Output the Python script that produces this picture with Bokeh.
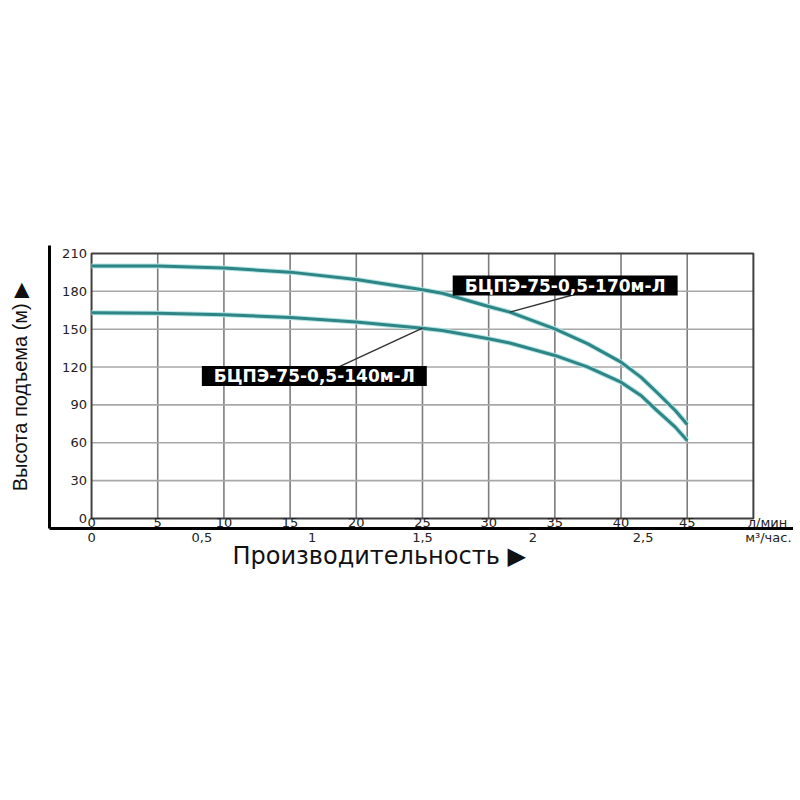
import numpy as np
from bokeh.plotting import figure
from bokeh.models import Range1d, LinearAxis, FixedTicker, Title
from bokeh.core.properties import value
from bokeh.embed import file_html
from bokeh.resources import INLINE

# ---- data ----
flow_lpm = [0, 5, 10, 15, 20, 25, 26.5, 30, 31.6, 35, 37.5, 40, 41.5, 42.7, 44.1, 45]
head_170 = [200, 200, 198.4, 195.2, 189.4, 181.2, 178.5, 168, 163.5, 150.3, 138.4, 123.9, 112, 100, 85.6, 74.5]
head_140 = [163, 162.7, 161.4, 159.3, 155.6, 150.8, 149, 142.4, 139, 129.2, 119.9, 108, 97.5, 85.6, 72.4, 61.8]
name_170 = "БЦПЭ-75-0,5-170м-Л"
name_140 = "БЦПЭ-75-0,5-140м-Л"

lpm_ticks = [0, 5, 10, 15, 20, 25, 30, 35, 40, 45]
head_ticks = [0, 30, 60, 90, 120, 150, 180, 210]
m3h_ticks = [0, 0.5, 1, 1.5, 2, 2.5]
m3h_labels = ["0", "0,5", "1", "1,5", "2", "2,5"]
lpm_unit = "л/мин"
m3h_unit = "м³/час."
y_title = "Высота подъема (м) ▶"
x_title = "Производительность ▶"
grid_x_max = 50
grid_y_max = 210

LPM_TO_M3H = 60.0 / 1000.0

# ---- layout ----
x_start, x_end = -3.177, 53.03
y_start, y_end = -7.92, 216.3

p = figure(width=793, height=793, output_backend="svg", toolbar_location=None,
           x_axis_type=None, y_axis_type=None,
           x_range=Range1d(x_start, x_end), y_range=Range1d(y_start, y_end),
           min_border_left=49, min_border_right=0, min_border_top=245,
           min_border_bottom=265, tools="")
p.outline_line_color = None
p.background_fill_color = "white"
p.border_fill_color = "white"
p.extra_x_ranges = {"m3": Range1d(x_start * LPM_TO_M3H, x_end * LPM_TO_M3H)}

# left thick axis with title
yax = LinearAxis(ticker=FixedTicker(ticks=[]), axis_line_width=3, axis_line_color="black",
                 major_tick_in=0, major_tick_out=0, minor_tick_in=0, minor_tick_out=0,
                 major_tick_line_color=None, minor_tick_line_color=None,
                 major_label_text_font_size="0px",
                 axis_label=y_title, axis_label_standoff=19,
                 axis_label_text_font="Liberation Sans", axis_label_text_font_size="20px",
                 axis_label_text_font_style="normal", axis_label_text_color="#111111")
p.add_layout(yax, "left")

# bottom thick axis with m3/h scale
m3_unit_pos = 51.13 * LPM_TO_M3H
overrides = {t: l for t, l in zip(m3h_ticks, m3h_labels)}
overrides[m3_unit_pos] = m3h_unit
xax = LinearAxis(x_range_name="m3", ticker=FixedTicker(ticks=m3h_ticks + [m3_unit_pos]),
                 major_label_overrides=overrides,
                 axis_line_width=3, axis_line_color="black",
                 major_tick_in=0, major_tick_out=0, minor_tick_in=0, minor_tick_out=0,
                 major_tick_line_color=None, minor_tick_line_color=None,
                 major_label_standoff=1,
                 major_label_text_font="DejaVu Sans", major_label_text_font_size="13px",
                 major_label_text_color="#222222")
p.add_layout(xax, "below")

# x title below the axis
p.add_layout(Title(text=x_title, align="left", offset=183, standoff=-15,
                   text_font="DejaVu Sans", text_font_size="24px",
                   text_font_style="normal", text_color="#111111"), "below")

# grid inside the inner box
vx = lpm_ticks[1:]
p.segment(x0=vx, y0=[0] * len(vx), x1=vx, y1=[grid_y_max] * len(vx),
          line_color="#7c7c7c", line_width=1.6)
hy = head_ticks[1:-1]
p.segment(x0=[0] * len(hy), y0=hy, x1=[grid_x_max] * len(hy), y1=hy,
          line_color="#a8a8a8", line_width=1.6)
p.quad(left=[0], right=[grid_x_max], bottom=[0], top=[grid_y_max],
       fill_color=None, line_color="#404040", line_width=2)

# tick labels
p.text(x=[-0.35] * len(head_ticks), y=head_ticks, text=[str(v) for v in head_ticks],
       text_align="right", text_baseline="middle", text_font=value("DejaVu Sans"),
       text_font_size="13px", text_color="#222222")
p.text(x=lpm_ticks + [51.06], y=[-3.4] * (len(lpm_ticks) + 1),
       text=[str(v) for v in lpm_ticks] + [lpm_unit],
       text_align="center", text_baseline="middle", text_font=value("DejaVu Sans"),
       text_font_size="13px", text_color="#222222")

# curves
for heads in (head_170, head_140):
    p.line(flow_lpm, heads, line_color="#b3e4e4", line_width=5)
    p.line(flow_lpm, heads, line_color="#2f8585", line_width=3, line_join="round")

# leaders and labels
lab_x = [35.78, 16.83]
lab_y = [184.6, 112.9]
lead_x0 = [36.76, 18.6]
lead_y0 = [178.3, 119.7]
lead_x1 = [31.6, 25.0]
lead_y1 = [float(np.interp(31.6, flow_lpm, head_170)), float(np.interp(25.0, flow_lpm, head_140))]
p.segment(x0=lead_x0, y0=lead_y0, x1=lead_x1, y1=lead_y1, line_color="#333333", line_width=1.5)
p.text(x=lab_x, y=lab_y, text=[name_170, name_140], text_color="white",
       text_font=value("DejaVu Sans"), text_font_style="bold", text_font_size="17px",
       text_align="center", text_baseline="middle", text_line_height=1.0,
       background_fill_color="black",
       padding=dict(left=12, right=12, top=0, bottom=0))

open("out.html", "w").write(file_html(p, INLINE))
